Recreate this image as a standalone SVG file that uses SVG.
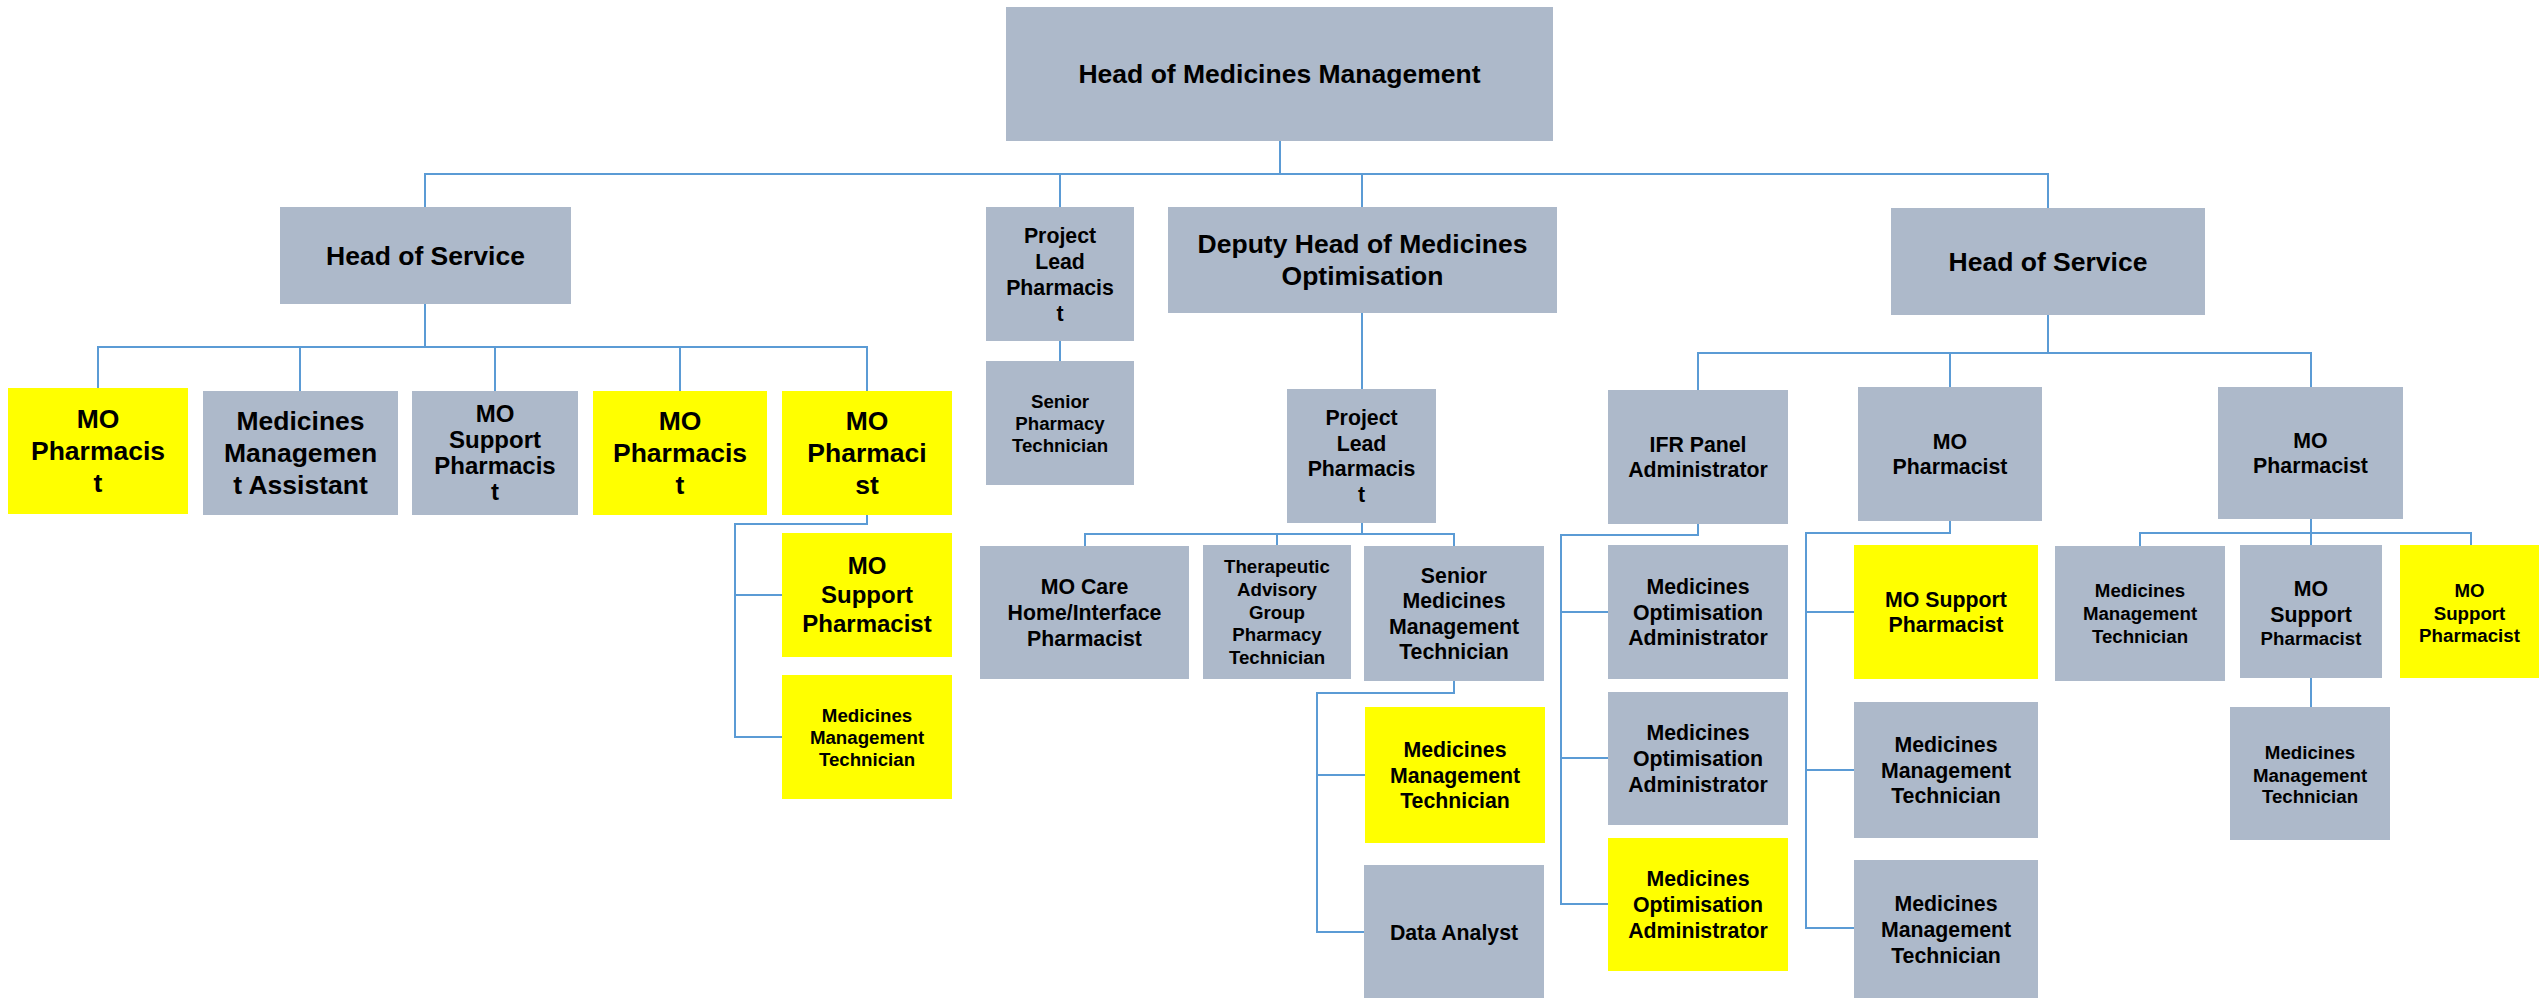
<svg xmlns="http://www.w3.org/2000/svg" width="2539" height="998" viewBox="0 0 2539 998">
<style>
.g{fill:#ADB9CA}
.y{fill:#FFFF00}
.c{fill:none;stroke:#5B9BD5;stroke-width:2}
text{font-family:"Liberation Sans",Arial,sans-serif;font-weight:bold;fill:#000;text-anchor:middle}
.s26{font-size:26.5px}
.s24{font-size:24px}
.s21{font-size:21.3px}
.s19{font-size:18.7px}
</style>
<rect width="2539" height="998" fill="#fff"/>
<g id="connectors" class="c">
<path d="M1280,141 V174 M425,207 V174 H2048 V208 M1060,174 V207 M1362,174 V207"/>
<path d="M425,304 V347 M98,388 V347 H867 V391 M300,347 V391 M495,347 V391 M680,347 V391"/>
<path d="M867,515 V524 H735 V737 H782 M735,595 H782"/>
<path d="M1060,341 V361"/>
<path d="M1362,313 V389"/>
<path d="M1362,523 V534 M1085,546 V534 H1454 V546 M1277,534 V545"/>
<path d="M1454,681 V693 H1317 V932 H1364 M1317,775 H1365"/>
<path d="M2048,315 V353 M1698,390 V353 H2311 V387 M1950,353 V387"/>
<path d="M1698,524 V535 H1561 V904 H1608 M1561,612 H1608 M1561,758 H1608"/>
<path d="M1950,521 V533 H1806 V928 H1854 M1806,612 H1854 M1806,770 H1854"/>
<path d="M2311,519 V533 M2140,546 V533 H2471 V545 M2311,533 V545 M2311,678 V707"/>
</g>
<g id="n1"><rect class="g" x="1006" y="7" width="547" height="134"/><text class="s26" x="1279.5" y="83.3">Head of Medicines Management</text></g>
<g id="n2"><rect class="g" x="280" y="207" width="291" height="97"/><text class="s26" x="425.5" y="264.8">Head of Service</text></g>
<g id="n3"><rect class="g" x="986" y="207" width="148" height="134"/><text class="s21" x="1060"><tspan x="1060" y="242.5">Project</tspan><tspan x="1060" y="268.5">Lead</tspan><tspan x="1060" y="294.5">Pharmacis</tspan><tspan x="1060" y="320.5">t</tspan></text></g>
<g id="n4"><rect class="g" x="1168" y="207" width="389" height="106"/><text class="s26"><tspan x="1362.5" y="253.3">Deputy Head of Medicines</tspan><tspan x="1362.5" y="285.3">Optimisation</tspan></text></g>
<g id="n5"><rect class="g" x="1891" y="208" width="314" height="107"/><text class="s26" x="2048" y="270.8">Head of Service</text></g>
<g id="n6"><rect class="y" x="8" y="388" width="180" height="126"/><text class="s26"><tspan x="98" y="428.3">MO</tspan><tspan x="98" y="460.3">Pharmacis</tspan><tspan x="98" y="492.3">t</tspan></text></g>
<g id="n7"><rect class="g" x="203" y="391" width="195" height="124"/><text class="s26"><tspan x="300.5" y="430.3">Medicines</tspan><tspan x="300.5" y="462.3">Managemen</tspan><tspan x="300.5" y="494.3">t Assistant</tspan></text></g>
<g id="n8"><rect class="g" x="412" y="391" width="166" height="124"/><text class="s24"><tspan x="495" y="422.4">MO</tspan><tspan x="495" y="448.4">Support</tspan><tspan x="495" y="474.4">Pharmacis</tspan><tspan x="495" y="500.4">t</tspan></text></g>
<g id="n9"><rect class="y" x="593" y="391" width="174" height="124"/><text class="s26"><tspan x="680" y="430.3">MO</tspan><tspan x="680" y="462.3">Pharmacis</tspan><tspan x="680" y="494.3">t</tspan></text></g>
<g id="n10"><rect class="y" x="782" y="391" width="170" height="124"/><text class="s26"><tspan x="867" y="430.3">MO</tspan><tspan x="867" y="462.3">Pharmaci</tspan><tspan x="867" y="494.3">st</tspan></text></g>
<g id="n11"><rect class="y" x="782" y="533" width="170" height="124"/><text class="s24"><tspan x="867" y="574.4">MO</tspan><tspan x="867" y="603.4">Support</tspan><tspan x="867" y="632.4">Pharmacist</tspan></text></g>
<g id="n12"><rect class="y" x="782" y="675" width="170" height="124"/><text class="s19"><tspan x="867" y="721.5">Medicines</tspan><tspan x="867" y="743.5">Management</tspan><tspan x="867" y="765.5">Technician</tspan></text></g>
<g id="n13"><rect class="g" x="986" y="361" width="148" height="124"/><text class="s19"><tspan x="1060" y="407.5">Senior</tspan><tspan x="1060" y="429.5">Pharmacy</tspan><tspan x="1060" y="451.5">Technician</tspan></text></g>
<g id="n14"><rect class="g" x="1287" y="389" width="149" height="134"/><text class="s21"><tspan x="1361.5" y="425.2">Project</tspan><tspan x="1361.5" y="450.7">Lead</tspan><tspan x="1361.5" y="476.2">Pharmacis</tspan><tspan x="1361.5" y="501.7">t</tspan></text></g>
<g id="n15"><rect class="g" x="980" y="546" width="209" height="133"/><text class="s21"><tspan x="1084.5" y="594.4">MO Care</tspan><tspan x="1084.5" y="620">Home/Interface</tspan><tspan x="1084.5" y="645.6">Pharmacist</tspan></text></g>
<g id="n16"><rect class="g" x="1203" y="545" width="148" height="134"/><text class="s19"><tspan x="1277" y="573.3">Therapeutic</tspan><tspan x="1277" y="595.9">Advisory</tspan><tspan x="1277" y="618.5">Group</tspan><tspan x="1277" y="641.1">Pharmacy</tspan><tspan x="1277" y="663.7">Technician</tspan></text></g>
<g id="n17"><rect class="g" x="1364" y="546" width="180" height="135"/><text class="s21"><tspan x="1454" y="582.6">Senior</tspan><tspan x="1454" y="608.2">Medicines</tspan><tspan x="1454" y="633.8">Management</tspan><tspan x="1454" y="659.4">Technician</tspan></text></g>
<g id="n18"><rect class="y" x="1365" y="707" width="180" height="136"/><text class="s21"><tspan x="1455" y="756.9">Medicines</tspan><tspan x="1455" y="782.5">Management</tspan><tspan x="1455" y="808.1">Technician</tspan></text></g>
<g id="n19"><rect class="g" x="1364" y="865" width="180" height="136"/><text class="s21" x="1454" y="940">Data Analyst</text></g>
<g id="n20"><rect class="g" x="1608" y="390" width="180" height="134"/><text class="s21"><tspan x="1698" y="451.7">IFR Panel</tspan><tspan x="1698" y="477.3">Administrator</tspan></text></g>
<g id="n21"><rect class="g" x="1608" y="545" width="180" height="134"/><text class="s21"><tspan x="1698" y="593.9">Medicines</tspan><tspan x="1698" y="619.5">Optimisation</tspan><tspan x="1698" y="645.1">Administrator</tspan></text></g>
<g id="n22"><rect class="g" x="1608" y="692" width="180" height="133"/><text class="s21"><tspan x="1698" y="740.4">Medicines</tspan><tspan x="1698" y="766">Optimisation</tspan><tspan x="1698" y="791.6">Administrator</tspan></text></g>
<g id="n23"><rect class="y" x="1608" y="838" width="180" height="133"/><text class="s21"><tspan x="1698" y="886.4">Medicines</tspan><tspan x="1698" y="912">Optimisation</tspan><tspan x="1698" y="937.6">Administrator</tspan></text></g>
<g id="n24"><rect class="g" x="1858" y="387" width="184" height="134"/><text class="s21"><tspan x="1950" y="448.7">MO</tspan><tspan x="1950" y="474.3">Pharmacist</tspan></text></g>
<g id="n25"><rect class="y" x="1854" y="545" width="184" height="134"/><text class="s21"><tspan x="1946" y="606.7">MO Support</tspan><tspan x="1946" y="632.3">Pharmacist</tspan></text></g>
<g id="n26"><rect class="g" x="1854" y="702" width="184" height="136"/><text class="s21"><tspan x="1946" y="751.9">Medicines</tspan><tspan x="1946" y="777.5">Management</tspan><tspan x="1946" y="803.1">Technician</tspan></text></g>
<g id="n27"><rect class="g" x="1854" y="860" width="184" height="140"/><text class="s21"><tspan x="1946" y="911.4">Medicines</tspan><tspan x="1946" y="937">Management</tspan><tspan x="1946" y="962.6">Technician</tspan></text></g>
<g id="n28"><rect class="g" x="2218" y="387" width="185" height="132"/><text class="s21"><tspan x="2310.5" y="447.7">MO</tspan><tspan x="2310.5" y="473.3">Pharmacist</tspan></text></g>
<g id="n29"><rect class="g" x="2055" y="546" width="170" height="135"/><text class="s19"><tspan x="2140" y="597.4">Medicines</tspan><tspan x="2140" y="620">Management</tspan><tspan x="2140" y="642.6">Technician</tspan></text></g>
<g id="n30"><rect class="g" x="2240" y="545" width="142" height="133"/><text><tspan class="s21" x="2311" y="596.1">MO</tspan><tspan class="s21" x="2311" y="621.5">Support</tspan><tspan class="s19" x="2311" y="645.2">Pharmacist</tspan></text></g>
<g id="n31"><rect class="y" x="2400" y="545" width="139" height="133"/><text class="s19"><tspan x="2469.5" y="597.2">MO</tspan><tspan x="2469.5" y="619.5">Support</tspan><tspan x="2469.5" y="641.5">Pharmacist</tspan></text></g>
<g id="n32"><rect class="g" x="2230" y="707" width="160" height="133"/><text class="s19"><tspan x="2310" y="759.1">Medicines</tspan><tspan x="2310" y="781.5">Management</tspan><tspan x="2310" y="803">Technician</tspan></text></g>
</svg>
